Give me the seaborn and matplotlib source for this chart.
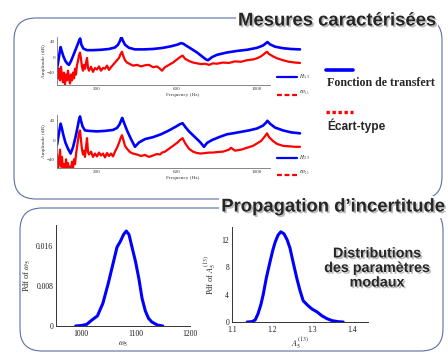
import matplotlib
matplotlib.use("Agg")
import matplotlib.pyplot as plt
import matplotlib.patheffects as pe
from matplotlib.patches import FancyBboxPatch
from matplotlib.lines import Line2D
import seaborn as sns

# --- measured FRF, point 1,3 (Hz / dB)
f_h13 = [0, 6, 12, 18, 24, 32, 42, 52, 60, 70, 82, 95, 105, 112, 116, 122, 132, 150, 180, 220,
         260, 290, 305, 315, 322, 328, 340, 360, 390, 430, 480, 530, 570, 600, 620, 630, 645, 670,
         700, 725, 745, 755, 775, 800, 850, 900, 950, 1000, 1030, 1045, 1052, 1065, 1090, 1130,
         1170, 1215]
h13 = [-30, -12, 8, 26, 15, 2, -10, -17, -20, -10, 5, 22, 35, 45, 48, 32, 22, 18, 18, 19,
       21, 25, 32, 42, 52, 44, 32, 24, 20, 20, 21, 24, 28, 32, 36, 35, 30, 22,
       12, 2, -6, -8, 0, 6, 12, 16, 19, 24, 30, 36, 39, 33, 27, 23,
       21, 20]

f_s13 = [0, 5, 10, 15, 20, 25, 30, 35, 40, 45, 50, 55, 60, 65, 70, 75, 80, 85, 90, 95, 100,
         105, 110, 115, 120, 125, 130, 135, 140, 145, 150, 155, 160, 170, 180, 190, 200, 210,
         220, 230, 240, 250, 260, 270, 280, 290, 300, 310, 318, 325, 332, 340, 350, 365, 380,
         400, 420, 440, 460, 480, 500, 515, 525, 540, 560, 580, 600, 615, 628, 640, 660, 680,
         700, 720, 740, 760, 780, 800, 830, 860, 890, 920, 950, 980, 1000, 1020, 1040, 1050,
         1060, 1080, 1100, 1130, 1160, 1190, 1215]
s13 = [-35, -55, -30, -60, -25, -50, -65, -40, -70, -45, -60, -35, -55, -68, -45, -60, -40, -55,
       -30, -45, -20, -10, 5, 12, -5, -25, -35, -20, -30, -15, -2, -28, -35, -25, -38, -28, -32,
       -24, -35, -28, -30, -22, -33, -26, -20, -14, -8, -2, 8, 14, 2, -8, -14, -18, -22,
       -20, -24, -21, -20, -26, -24, -30, -35, -26, -20, -14, -6, 0, 4, -4, -10, -14,
       -16, -18, -17, -20, -16, -17, -14, -15, -11, -12, -8, -6, -3, 2, 10, 14,
       8, 2, -3, -8, -12, -14, -15]

# --- measured FRF, point 2,3
f_h23 = [0, 6, 12, 18, 24, 32, 42, 55, 68, 80, 92, 102, 110, 115, 120, 128, 140, 160, 200, 240,
         280, 300, 312, 320, 326, 335, 350, 370, 390, 410, 440, 480, 520, 560, 595, 615, 628,
         640, 660, 690, 715, 735, 750, 775, 810, 850, 880, 920, 960, 1000, 1030, 1045, 1052,
         1065, 1090, 1130, 1170, 1215]
h23 = [-10, 5, 20, 34, 25, 10, -5, -18, -28, -15, 5, 25, 42, 49, 40, 28, 20, 19, 18, 19,
       21, 25, 32, 40, 46, 36, 20, 2, -14, -5, 2, 6, 12, 20, 28, 33, 35,
       28, 18, 6, -4, -14, -6, 0, 6, 12, 14, 17, 20, 24, 30, 36, 40,
       34, 26, 20, 16, 14]

f_s23 = [0, 5, 10, 15, 20, 25, 30, 35, 40, 45, 50, 55, 60, 65, 70, 75, 80, 85, 90, 95, 100,
         105, 110, 115, 120, 125, 130, 135, 140, 145, 150, 155, 160, 170, 180, 190, 200, 210,
         220, 230, 240, 250, 260, 270, 280, 290, 300, 310, 318, 325, 332, 340, 350, 365, 380,
         400, 420, 440, 460, 480, 500, 515, 525, 540, 560, 580, 600, 615, 628, 640, 660, 680,
         700, 720, 740, 760, 780, 800, 830, 860, 870, 890, 920, 950, 980, 1000, 1020, 1040,
         1050, 1060, 1080, 1100, 1130, 1160, 1190, 1215]
s23 = [-30, -60, -45, -20, -55, -35, -65, -50, -70, -40, -62, -48, -70, -55, -65, -45, -58, -40,
       -50, -30, -15, 0, 15, 20, 0, -20, -30, -22, -35, -15, 4, -25, -30, -24, -35, -28, -34,
       -26, -32, -28, -36, -27, -33, -28, -34, -24, -16, -6, 4, 10, 0, -12, -18, -25, -28,
       -30, -33, -31, -35, -32, -29, -30, -26, -24, -18, -12, -6, 0, 4, -6, -18, -24,
       -27, -28, -27, -26, -26, -25, -24, -20, -16, -22, -20, -16, -12, -7, -2, 8,
       14, 6, -2, -8, -12, -13, -14, -14]

# --- modal parameter distributions
omega5 = [990, 1000, 1010, 1020, 1030, 1040, 1050, 1060, 1066, 1072, 1078, 1083, 1088, 1094,
          1100, 1106, 1112, 1118, 1124, 1130, 1140, 1150]
pdf_omega5 = [0, 0.0001, 0.0003, 0.0012, 0.0020, 0.0045, 0.0085, 0.0130, 0.0157, 0.0168,
              0.0182, 0.0189, 0.0182, 0.0155, 0.0128, 0.0095, 0.0055, 0.0030, 0.0015,
              0.0008, 0.0002, 0]
a5 = [1.138, 1.15, 1.158, 1.165, 1.172, 1.178, 1.186, 1.195, 1.202, 1.208, 1.215, 1.222,
      1.23, 1.238, 1.245, 1.253, 1.262, 1.27, 1.278, 1.29, 1.3, 1.312, 1.325, 1.337, 1.35,
      1.365, 1.378]
pdf_a5 = [0, 0.05, 0.3, 1.2, 2.5, 4.0, 6.5, 8.8, 10.5, 11.7, 12.7, 13.2, 12.9, 12.0, 10.8,
          8.7, 6.4, 4.6, 3.1, 2.4, 1.9, 1.5, 0.9, 0.5, 0.2, 0.05, 0]

W, H = 448, 354
FRAME = "#5b6ea6"

sns.set_style("white")
plt.rcParams["font.family"] = ["Liberation Serif", "DejaVu Serif"]
plt.rcParams["mathtext.fontset"] = "stix"


def box(x0, y0, x1, y1):
    # pixel box (top-left origin) -> figure fraction rect
    return [x0 / W, 1 - y1 / H, (x1 - x0) / W, (y1 - y0) / H]


def fx(x):
    return x / W


def fy(y):
    return 1 - y / H


fig = plt.figure(figsize=(W / 100, H / 100), dpi=100)

# rounded frames (drawn in inches so corners stay circular)
for x0, y0, x1, y1 in [(14, 18, 442, 199), (20, 208, 443, 351)]:
    fig.add_artist(FancyBboxPatch((x0 / 100, (H - y1) / 100), (x1 - x0) / 100, (y1 - y0) / 100,
                                  boxstyle="round,pad=0,rounding_size=0.22",
                                  transform=fig.dpi_scale_trans, fill=False,
                                  ec=FRAME, lw=0.8))

shadow = [pe.SimplePatchShadow(offset=(1.2, -1.2), shadow_rgbFace="0.55", alpha=0.6), pe.Normal()]
for txt, x, y in [("Mesures caractérisées", 337, 21), ("Propagation d\u2019incertitude", 333, 207)]:
    fig.text(fx(x), fy(y), txt, ha="center", va="center", fontsize=13.3, fontweight="bold",
             family="Liberation Sans", path_effects=shadow,
             bbox=dict(fc="white", ec="none", pad=1.5))


def frf_axes(rect, fb, hb, fs, sb, ylim):
    ax = fig.add_axes(rect)
    sns.lineplot(x=fs, y=sb, ax=ax, color="red", lw=1.6, estimator=None)
    sns.lineplot(x=fb, y=hb, ax=ax, color="blue", lw=1.9, estimator=None)
    ax.set_xlim(0, 1255)
    ax.set_ylim(*ylim)
    ax.set_xticks([200, 600, 1000])
    ax.set_yticks([-40, 0, 40])
    for s in ["top", "right"]:
        ax.spines[s].set_visible(False)
    for s in ["left", "bottom"]:
        ax.spines[s].set_color("0.45")
        ax.spines[s].set_linewidth(0.6)
    ax.spines["bottom"].set_bounds(0, 1065)
    ax.tick_params(direction="in", length=1.5, width=0.5, labelsize=3.6, pad=1.5, colors="0.2")
    ax.set_xlabel("Frequency (Hz)", fontsize=3.8, labelpad=1.5, color="0.2")
    ax.set_ylabel("Amplitude (dB)", fontsize=3.8, labelpad=1, color="0.2")
    return ax


frf_axes(box(57, 37, 308, 85), f_h13, h13, f_s13, s13, (-72, 52))
frf_axes(box(57, 115, 308, 168), f_h23, h23, f_s23, s23, (-58, 52))

# small legends beside the FRF plots
for yb, yr, lab in [(77, 95, "1,3"), (158, 175, "2,3")]:
    fig.add_artist(Line2D([fx(277), fx(297)], [fy(yb), fy(yb)], color="blue", lw=1.6))
    fig.add_artist(Line2D([fx(277), fx(297)], [fy(yr), fy(yr)], color="red", lw=1.6,
                          ls=(0, (2.2, 1.2))))
    fig.text(fx(299), fy(yb), r"$H_{%s}$" % lab, fontsize=4, va="center")
    fig.text(fx(299), fy(yr - 2), r"$\sigma_{H_{%s}}$" % lab, fontsize=4, va="center")

# main legend
fig.add_artist(Line2D([fx(326), fx(353)], [fy(70), fy(70)], color="blue", lw=2.6))
fig.text(fx(327), fy(83), "Fonction de transfert", fontsize=8.6, fontweight="bold",
         va="center", ha="left")
fig.add_artist(Line2D([fx(326), fx(353)], [fy(112), fy(112)], color="red", lw=2.4,
                      ls=(0, (1, 0.8))))
fig.text(fx(327), fy(126), "Écart-type", fontsize=8.6, fontweight="bold", va="center",
         ha="left", family="Liberation Sans")

fig.text(fx(377), fy(268), "Distributions\ndes paramètres\nmodaux", fontsize=10.3,
         fontweight="bold", family="Liberation Sans", ha="center", va="center",
         linespacing=1.05, path_effects=shadow)


def pdf_axes(rect, x, y, xlim, ylim, xticks, yticks, xlab, ylab, ytl):
    ax = fig.add_axes(rect)
    sns.lineplot(x=x, y=y, ax=ax, color="blue", lw=2.2, estimator=None)
    ax.set_xlim(*xlim)
    ax.set_ylim(*ylim)
    ax.set_xticks(xticks)
    ax.set_yticks(yticks)
    ax.set_yticklabels(ytl)
    for s in ["top", "right"]:
        ax.spines[s].set_visible(False)
    for s in ["left", "bottom"]:
        ax.spines[s].set_color("0.2")
        ax.spines[s].set_linewidth(0.7)
    ax.tick_params(direction="in", length=2, width=0.6, labelsize=5.5, pad=2, colors="0.1")
    ax.tick_params(axis="x", pad=3)
    ax.set_xlabel(xlab, fontsize=6, labelpad=1)
    ax.set_ylabel(ylab, fontsize=6, labelpad=2)
    return ax


pdf_axes(box(56, 225, 190, 326), omega5, pdf_omega5, (954, 1200), (0, 0.0201),
         [1000, 1100, 1200], [0, 0.008, 0.016], r"$\omega_5$", r"Pdf of $\omega_5$",
         ["0", "0.008", "0.016"])
pdf_axes(box(232, 227, 368, 322), a5, pdf_a5, (1.1, 1.44), (0, 13.9),
         [1.1, 1.2, 1.3, 1.4], [0, 4, 8, 12], r"$A_5^{(13)}$", r"Pdf of $A_5^{(13)}$",
         ["0", "4", "8", "12"])

fig.savefig("out.png", dpi=100)
